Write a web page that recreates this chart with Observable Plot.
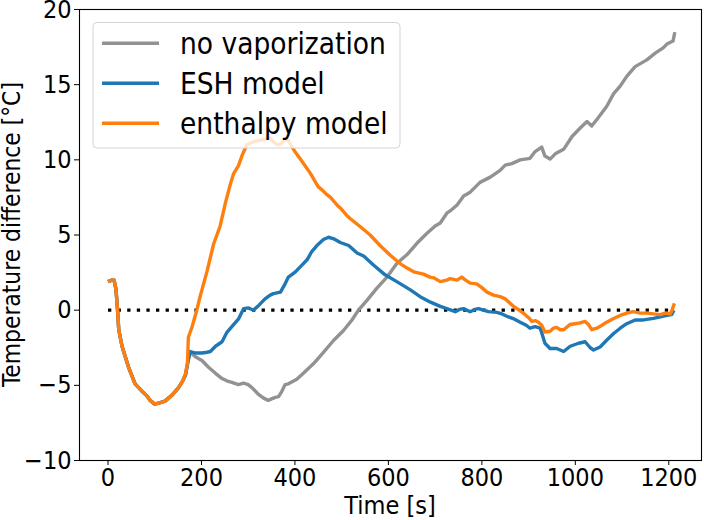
<!DOCTYPE html>
<html>
<head>
<meta charset="utf-8">
<script src="https://cdn.jsdelivr.net/npm/d3@7"></script>
<script src="https://cdn.jsdelivr.net/npm/@observablehq/plot@0.6"></script>
<style>
  body { margin: 0; background: #fff; }
  #chart { width: 704px; height: 520px; }
</style>
</head>
<body>
<div id="chart"></div>
<script>
// ---- Data ----
const seriesNames = ["no vaporization", "ESH model", "enthalpy model"];
const seriesColors = ["#929292", "#1f77b4", "#ff7f0e"];

// shared initial segment (all three curves coincide)
const startT = [0, 8, 13, 17, 20, 23, 30, 44, 58, 73, 83, 90, 100, 112, 122, 137, 151, 160];
const startV = [1.9, 2.0, 2.0, 1.4, 0.2, -1.3, -2.4, -3.8, -4.9, -5.4, -5.7, -6.0, -6.25, -6.15, -6.05, -5.65, -5.15, -4.7];

const noVapT = [166, 172, 176, 187, 201, 215, 230, 244, 254, 265, 279, 290, 300, 308, 322, 333, 343, 350, 358, 365, 372, 379, 386, 404, 418, 440, 461, 483, 504, 522, 536, 554, 575, 597, 618, 640, 661, 682, 700, 711, 725, 732, 747, 761, 775, 796, 818, 839, 850, 864, 882, 903, 914, 928, 935, 946, 957, 975, 993, 1010, 1025, 1035, 1049, 1067, 1082, 1096, 1110, 1128, 1153, 1171, 1188, 1196, 1209, 1213];
const noVapV = [-4.3, -3.2, -2.8, -3.1, -3.35, -3.8, -4.2, -4.55, -4.7, -4.8, -4.95, -4.85, -4.95, -5.15, -5.6, -5.85, -6.0, -5.9, -5.8, -5.75, -5.4, -4.95, -4.9, -4.6, -4.2, -3.55, -2.8, -2.0, -1.35, -0.65, 0.0, 0.65, 1.45, 2.2, 3.1, 3.7, 4.45, 5.1, 5.6, 5.8, 6.45, 6.6, 7.0, 7.6, 7.85, 8.5, 8.85, 9.3, 9.65, 9.75, 10.0, 10.1, 10.55, 10.85, 10.25, 10.05, 10.4, 10.7, 11.55, 12.1, 12.55, 12.25, 12.8, 13.55, 14.4, 14.9, 15.55, 16.2, 16.65, 17.1, 17.45, 17.7, 17.9, 18.5];

const eshT = [166, 172, 176, 187, 201, 212, 219, 230, 244, 254, 265, 279, 290, 301, 311, 322, 336, 347, 354, 369, 379, 386, 401, 415, 426, 436, 447, 461, 472, 483, 497, 515, 533, 547, 568, 593, 618, 647, 668, 689, 711, 725, 743, 752, 761, 775, 785, 793, 814, 832, 843, 857, 870, 882, 895, 903, 914, 925, 935, 946, 960, 975, 989, 1007, 1021, 1032, 1039, 1053, 1067, 1082, 1096, 1110, 1128, 1146, 1167, 1182, 1196, 1206, 1211];
const eshV = [-4.3, -3.3, -2.75, -2.85, -2.85, -2.8, -2.75, -2.4, -2.1, -1.5, -1.1, -0.6, 0.1, 0.15, 0.0, 0.3, 0.75, 1.0, 1.1, 1.2, 1.75, 2.2, 2.55, 3.0, 3.35, 3.9, 4.3, 4.7, 4.85, 4.75, 4.5, 4.3, 3.8, 3.6, 3.0, 2.35, 1.9, 1.35, 0.9, 0.55, 0.25, 0.1, -0.1, 0.05, 0.1, -0.1, 0.05, 0.1, -0.1, -0.15, -0.25, -0.45, -0.6, -0.8, -1.0, -1.2, -1.1, -1.2, -2.2, -2.55, -2.55, -2.75, -2.4, -2.2, -2.1, -2.5, -2.65, -2.45, -2.0, -1.55, -1.2, -0.9, -0.65, -0.65, -0.55, -0.45, -0.35, -0.3, 0.0];

const enthT = [166, 170, 172, 180, 190, 197, 201, 212, 226, 240, 251, 262, 269, 279, 287, 297, 311, 325, 336, 344, 354, 362, 369, 379, 386, 393, 401, 415, 433, 450, 458, 468, 476, 490, 497, 511, 518, 540, 561, 582, 604, 625, 640, 654, 675, 689, 697, 711, 725, 732, 747, 757, 765, 775, 789, 800, 811, 825, 839, 850, 868, 880, 889, 900, 907, 915, 921, 928, 935, 946, 953, 960, 968, 975, 989, 1000, 1010, 1021, 1028, 1035, 1046, 1057, 1067, 1082, 1096, 1110, 1124, 1139, 1153, 1167, 1182, 1192, 1203, 1207, 1212];
const enthV = [-4.2, -3.5, -1.8, -1.1, 0.0, 0.9, 1.35, 2.6, 4.4, 5.6, 7.1, 8.4, 9.1, 9.6, 10.3, 11.0, 11.2, 11.3, 11.35, 11.5, 11.2, 11.0, 11.05, 11.35, 11.3, 10.9, 10.5, 9.9, 9.1, 8.2, 8.0, 7.7, 7.5, 7.0, 6.8, 6.3, 6.1, 5.55, 5.0, 4.3, 3.65, 3.1, 2.8, 2.55, 2.4, 2.2, 2.15, 1.9, 2.0, 2.1, 2.0, 2.2, 2.0, 1.8, 1.75, 1.5, 1.2, 1.0, 0.9, 0.75, 0.25, 0.0, -0.2, -0.5, -0.75, -0.7, -0.8, -1.0, -1.45, -1.4, -1.2, -1.15, -1.3, -1.3, -0.95, -0.9, -0.85, -0.75, -0.95, -1.3, -1.2, -1.0, -0.8, -0.55, -0.35, -0.2, -0.1, -0.2, -0.2, -0.25, -0.3, -0.2, -0.25, 0.0, 0.45];

// dotted zero reference
const refT = [0, 1200];
const refV = [0, 0];

const xTicks = [0, 200, 400, 600, 800, 1000, 1200];
const yTicks = [-10, -5, 0, 5, 10, 15, 20];

const xLabel = "Time [s]";
const yLabel = "Temperature difference [°C]";

// ---- Build tables ----
const rows = (t, v) => t.map((d, i) => ({ t: d, v: v[i] }));
const noVapRows = rows(startT.concat(noVapT), startV.concat(noVapV));
const eshRows = rows(startT.concat(eshT), startV.concat(eshV));
const enthRows = rows(startT.concat(enthT), startV.concat(enthV));
const refRows = rows(refT, refV);

const condensed = '"DejaVu Sans Condensed", "DejaVu Sans", sans-serif';
const fmt = (d) => String(d).replace("-", "\u2212");

const lineOpts = (color) => ({
  x: "t", y: "v", stroke: color, strokeWidth: 3.4,
  strokeLinejoin: "round", strokeLinecap: "butt"
});

const svg = Plot.plot({
  width: 704,
  height: 520,
  marginLeft: 79,
  marginRight: 3,
  marginTop: 9,
  marginBottom: 60,
  style: {
    fontFamily: condensed,
    fontStretch: "condensed",
    fontSize: "25px",
    background: "white",
    color: "black",
    overflow: "visible"
  },
  x: { domain: [-61, 1270] },
  y: { domain: [-10, 20] },
  marks: [
    Plot.axisX({ ticks: xTicks, tickFormat: fmt, tickSize: 5, tickPadding: 3, label: null, stroke: "black", fill: "black" }),
    Plot.axisY({ ticks: yTicks, tickFormat: fmt, tickSize: 5, tickPadding: 3, label: null, stroke: "black", fill: "black" }),
    Plot.line(refRows, { x: "t", y: "v", stroke: "black", strokeWidth: 3.3, strokeDasharray: "3.3,6.3", strokeLinecap: "butt" }),
    Plot.line(noVapRows, lineOpts(seriesColors[0])),
    Plot.line(eshRows, lineOpts(seriesColors[1])),
    Plot.line(enthRows, lineOpts(seriesColors[2])),
    Plot.frame({ stroke: "black", strokeWidth: 1.1 })
  ]
});

const s = d3.select(svg);

// axis titles
s.append("text")
  .attr("x", 390).attr("y", 514)
  .attr("text-anchor", "middle")
  .style("font-family", condensed).style("font-stretch", "condensed")
  .style("font-size", "25px").attr("fill", "black")
  .text(xLabel);

s.append("text")
  .attr("transform", "translate(20,234.5) rotate(-90)")
  .attr("text-anchor", "middle")
  .style("font-family", '"DejaVu Sans", sans-serif')
  .style("font-size", "24.3px").attr("fill", "black")
  .text(yLabel);

// legend
const lg = s.append("g");
lg.append("rect")
  .attr("x", 93).attr("y", 22.5).attr("width", 307).attr("height", 125.5)
  .attr("rx", 4).attr("ry", 4)
  .attr("fill", "white").attr("fill-opacity", 0.8)
  .attr("stroke", "#d4d4d4").attr("stroke-width", 1);
seriesNames.forEach((name, i) => {
  const yy = 43.3 + 40 * i;
  lg.append("line")
    .attr("x1", 102).attr("x2", 159).attr("y1", yy).attr("y2", yy)
    .attr("stroke", seriesColors[i]).attr("stroke-width", 3.4);
  lg.append("text")
    .attr("x", 180).attr("y", yy + 10.5)
    .attr("text-anchor", "start")
    .style("font-family", condensed).style("font-stretch", "condensed")
    .style("font-size", "29.5px").attr("fill", "black")
    .text(name);
});

document.getElementById("chart").appendChild(svg);
</script>
</body>
</html>
